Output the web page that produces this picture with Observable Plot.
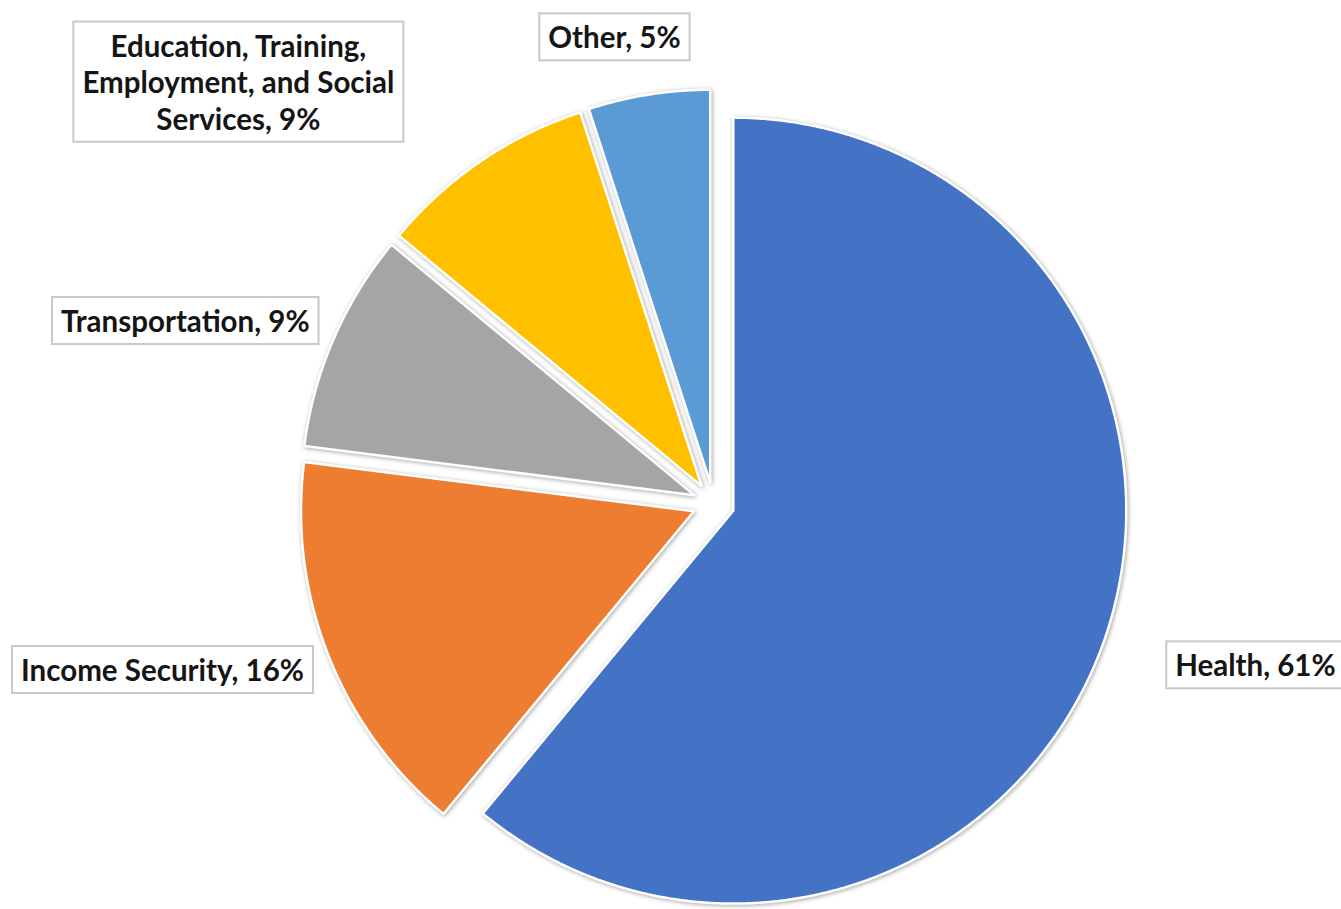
<!DOCTYPE html>
<html><head><meta charset="utf-8">
<script src="https://cdn.jsdelivr.net/npm/d3@7"></script>
<script src="https://cdn.jsdelivr.net/npm/@observablehq/plot@0.6"></script>
<style>body{margin:0;background:#fff} svg{display:block}</style>
</head><body><div id="chart"></div>
<script>
// ---- data ----
const categories = ["Health", "Income Security", "Transportation", "Education, Training,\nEmployment, and Social\nServices", "Other"];
const shares = [61, 16, 9, 9, 5];
const colors = ["#4472C4", "#ED7D31", "#A5A5A5", "#FFC000", "#5B9BD5"];

// ---- layout ----
const W = 1341, H = 909, R = 393, cx = 713, cy = 503, explode = 21;
// label centres in pie-radius units relative to pie centre (y up)
const labelPos = [[1.379, -0.410], [-1.402, -0.422], [-1.344, 0.466], [-1.209, 1.074], [-0.252, 1.188]];

const arcs = d3.pie().sort(null).value(d => d)(shares);
const pts = [];
arcs.forEach((a, i) => {
  const name = categories[i];
  const mid = (a.startAngle + a.endAngle) / 2;
  const ox = explode / R * Math.sin(mid), oy = explode / R * Math.cos(mid);
  pts.push({name, x: ox, y: oy});
  const n = Math.max(2, Math.ceil((a.endAngle - a.startAngle) / 0.004));
  for (let k = 0; k <= n; k++) {
    const t = a.startAngle + (a.endAngle - a.startAngle) * k / n;
    pts.push({name, x: ox + Math.sin(t), y: oy + Math.cos(t)});
  }
});
const labels = categories.map((c, i) => ({name: c, text: `${c}, ${shares[i]}%`, x: labelPos[i][0], y: labelPos[i][1]}));

const svg = Plot.plot({
  width: W, height: H, margin: 0,
  x: {domain: [-cx / R, (W - cx) / R], axis: null},
  y: {domain: [(cy - H) / R, cy / R], axis: null},
  color: {domain: categories, range: colors},
  marks: [
    Plot.line(pts, {x: "x", y: "y", z: "name", fill: "name", stroke: "white", strokeWidth: 2.5, curve: "linear-closed"}),
    Plot.text(labels, {x: "x", y: "y", text: "text", fontSize: 29.5, fontWeight: "bold", fontFamily: "Lato", fill: "#151515", lineHeight: 1.24, textAnchor: "middle"})
  ]
});
document.getElementById("chart").append(svg);
const ns = "http://www.w3.org/2000/svg";
const lineG = svg.querySelector('g[aria-label="line"]');
if (lineG) lineG.style.filter = "drop-shadow(1px 1px 2px rgba(0,0,0,0.35))";
svg.querySelectorAll('g[aria-label="text"] text').forEach(t => {
  const b = t.getBBox();
  const r = document.createElementNS(ns, "rect");
  r.setAttribute("x", b.x - 9); r.setAttribute("y", b.y - 6);
  r.setAttribute("width", b.width + 18); r.setAttribute("height", b.height + 12);
  r.setAttribute("fill", "white"); r.setAttribute("stroke", "#c8c8c8"); r.setAttribute("stroke-width", 2);
  if (t.getAttribute("transform")) r.setAttribute("transform", t.getAttribute("transform"));
  t.parentNode.insertBefore(r, t);
});
</script>
</body></html>
